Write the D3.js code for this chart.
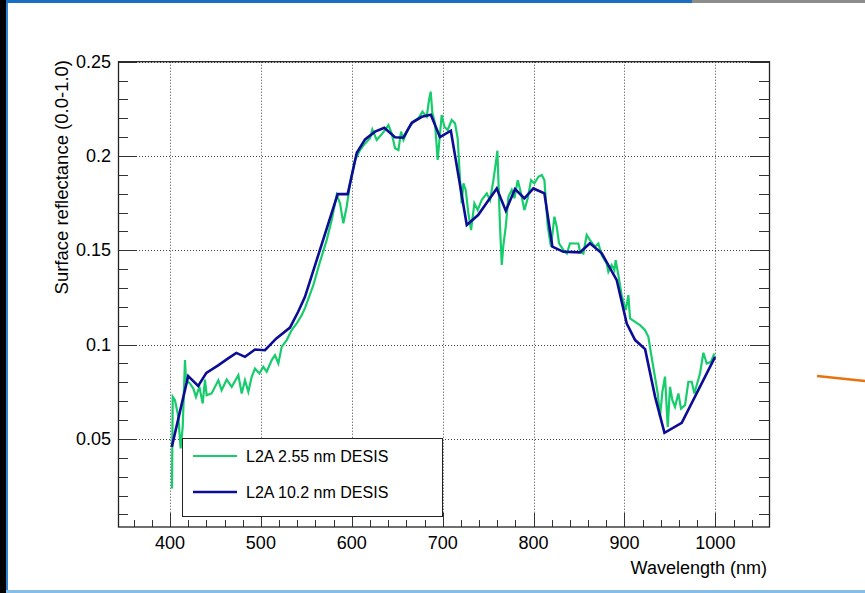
<!DOCTYPE html>
<html>
<head>
<meta charset="utf-8">
<script src="https://cdn.jsdelivr.net/npm/d3@7"></script>
<style>
  body { margin: 0; background: #fff; }
  svg { display: block; font-family: "Liberation Sans", Arial, sans-serif; }
</style>
</head>
<body>
<svg id="chart" width="865" height="593"></svg>
<script>
// L2A 2.55 nm DESIS
var greenWl = [402.2,403.0,405.5,409.2,411.7,414.0,416.5,417.6,422.0,425.7,428.6,432.3,436.0,438.5,440.3,445.8,453.2,456.8,462.4,467.9,
  475.2,478.9,482.5,486.2,489.9,493.5,498.3,502.7,506.4,511.9,515.5,519.2,522.9,528.4,533.9,539.4,544.9,548.6,557.7,565.0,
  572.4,577.9,583.4,587.1,590.7,594.4,598.1,603.6,609.1,614.6,620.1,622.6,627.4,632.2,636.6,640.3,643.9,647.6,651.3,654.2,
  656.8,662.3,667.8,673.3,677.7,682.4,685.0,686.8,688.7,691.6,694.5,697.1,698.9,701.9,705.5,709.9,713.6,716.5,719.1,720.9,
  722.8,725.3,728.3,731.2,734.9,738.5,742.9,748.5,752.1,755.8,758.4,760.2,761.3,763.1,765.0,766.8,769.4,772.3,776.0,778.9,
  782.6,786.2,789.9,793.6,797.2,800.9,805.3,809.0,811.9,815.6,819.2,822.9,825.5,828.0,832.8,836.5,840.1,845.6,849.3,851.1,
  854.8,858.4,862.1,867.6,871.3,874.9,880.4,882.3,885.9,888.9,890.3,893.3,896.9,901.4,904.3,906.1,911.6,917.1,922.6,926.3,
  929.2,932.9,936.6,939.1,941.7,944.6,947.6,950.1,952.7,955.6,959.3,962.2,966.6,970.3,974.0,976.9,983.1,986.8,990.5,995.2,998.9];
var greenRefl = [0.0237,0.0723,0.0705,0.0617,0.0450,0.0564,0.0918,0.0810,0.0794,0.0767,0.0723,0.0776,0.0688,0.0815,0.0732,0.0741,0.0811,0.0758,0.0815,0.0776,
  0.0838,0.0741,0.0811,0.0750,0.0829,0.0873,0.0847,0.0882,0.0856,0.0918,0.0944,0.0900,0.0988,0.1024,0.1077,0.1112,0.1156,0.1195,0.1315,0.1439,
  0.1554,0.1660,0.1793,0.1749,0.1643,0.1731,0.1855,0.1979,0.2032,0.2067,0.2094,0.2141,0.2085,0.2111,0.2138,0.2164,0.2120,0.2041,0.2032,0.2129,
  0.2085,0.2147,0.2182,0.2200,0.2235,0.2208,0.2297,0.2341,0.2226,0.2173,0.1979,0.2120,0.2217,0.2155,0.2138,0.2191,0.2173,0.2094,0.1872,0.1749,
  0.1855,0.1820,0.1696,0.1607,0.1749,0.1713,0.1766,0.1802,0.1766,0.1872,0.1961,0.2028,0.1872,0.1625,0.1422,0.1528,0.1625,0.1784,0.1820,0.1776,
  0.1872,0.1802,0.1713,0.1776,0.1872,0.1855,0.1890,0.1899,0.1872,0.1625,0.1519,0.1678,0.1625,0.1537,0.1501,0.1483,0.1537,0.1536,0.1536,0.1492,
  0.1483,0.1581,0.1554,0.1519,0.1536,0.1475,0.1430,0.1386,0.1422,0.1395,0.1448,0.1368,0.1262,0.1183,0.1262,0.1139,0.1121,0.1103,0.1077,0.1041,
  0.0953,0.0847,0.0741,0.0617,0.0750,0.0830,0.0564,0.0776,0.0705,0.0670,0.0741,0.0661,0.0679,0.0803,0.0803,0.0741,0.0847,0.0957,0.0900,0.0909,0.0953];

// L2A 10.2 nm DESIS
var blueWl = [402,420,431,440,453,464,473,482.5,493.5,504.5,517,532,541,548.5,584.5,595.5,605.5,614.6,625.6,635.8,
  647.5,656.7,666,677,687,697,709,726.5,739,759.5,769.4,779.6,789.9,799.8,811.9,820.7,832.8,851,862,875,
  891.5,902.5,911.7,922.7,933.7,944,963,999.7];
var blueRefl = [0.0458,0.0833,0.0781,0.0850,0.0890,0.0927,0.0956,0.0935,0.0974,0.0970,0.1033,0.1090,0.1174,0.1253,0.1798,0.1798,0.2017,0.2088,0.2129,0.2150,
  0.2099,0.2097,0.2176,0.2208,0.2219,0.2100,0.2134,0.1634,0.1687,0.1828,0.1710,0.1825,0.1775,0.1828,0.1802,0.1519,0.1492,0.1489,0.1537,0.1484,
  0.1342,0.1112,0.1024,0.0976,0.0723,0.0532,0.0585,0.0935];

var xMajor = [400,500,600,700,800,900,1000];
var yMajor = [0.05,0.1,0.15,0.2,0.25];
var legendLabels = ["L2A 2.55 nm DESIS","L2A 10.2 nm DESIS"];
var seriesColors = ["#17cc6c","#0c0c94"];

var svg = d3.select("#chart");

// frame of the screenshot --------------------------------------------------
svg.append("rect").attr("x",0).attr("y",0).attr("width",6).attr("height",593).attr("fill","#000");
svg.append("rect").attr("x",6).attr("y",0).attr("width",2).attr("height",593).attr("fill","#2b86d6");
svg.append("rect").attr("x",6).attr("y",0).attr("width",686).attr("height",3).attr("fill","#1a6fc2");
svg.append("rect").attr("x",692).attr("y",0).attr("width",173).attr("height",3).attr("fill","#8c8c8c");
svg.append("rect").attr("x",6).attr("y",590).attr("width",859).attr("height",3).attr("fill","#86bde8");
svg.append("line").attr("x1",817).attr("y1",376).attr("x2",865).attr("y2",381)
  .attr("stroke","#e8720c").attr("stroke-width",2.5);

// scales -------------------------------------------------------------------
var pLeft = 118, pRight = 769, pTop = 61.7, pBottom = 527;
var x = d3.scaleLinear().domain([342.8, 1059]).range([pLeft, pRight]);
var y = d3.scaleLinear().domain([0.0033, 0.25]).range([pBottom, pTop]);

// grid
var grid = svg.append("g").attr("stroke","#444").attr("stroke-width",1).attr("stroke-dasharray","1,2");
grid.selectAll(".gx").data(xMajor).enter().append("line")
  .attr("x1",d=>Math.round(x(d))+0.5).attr("x2",d=>Math.round(x(d))+0.5)
  .attr("y1",pTop).attr("y2",pBottom);
grid.selectAll(".gy").data(yMajor).enter().append("line")
  .attr("y1",d=>Math.round(y(d))+0.5).attr("y2",d=>Math.round(y(d))+0.5)
  .attr("x1",pLeft).attr("x2",pRight);

// axes (ticks inside, ROOT style)
var xMinor = d3.range(360, 1060, 20);
var yMinor = d3.range(1, 26).map(k => k/100);
var isMajorY = d => Math.abs(d*20 - Math.round(d*20)) < 1e-6;
var ax = svg.append("g").attr("stroke","#333").attr("stroke-width",1);
ax.selectAll(".tx").data(xMinor).enter().append("line")
  .attr("x1",d=>Math.round(x(d))+0.5).attr("x2",d=>Math.round(x(d))+0.5)
  .attr("y1",pBottom).attr("y2",d=>pBottom-(d%100===0?14:7));
ax.selectAll(".tyl").data(yMinor).enter().append("line")
  .attr("y1",d=>Math.round(y(d))+0.5).attr("y2",d=>Math.round(y(d))+0.5)
  .attr("x1",pLeft).attr("x2",d=>pLeft+(isMajorY(d)?19:10));
ax.selectAll(".tyr").data(yMinor).enter().append("line")
  .attr("y1",d=>Math.round(y(d))+0.5).attr("y2",d=>Math.round(y(d))+0.5)
  .attr("x1",pRight).attr("x2",d=>pRight-(isMajorY(d)?19:10));
svg.append("rect").attr("x",pLeft+0.5).attr("y",pTop).attr("width",pRight-pLeft).attr("height",pBottom-pTop)
  .attr("fill","none").attr("stroke","#222").attr("stroke-width",1.3);

// tick labels
svg.append("g").selectAll("text").data(xMajor).enter().append("text")
  .attr("x",d=>x(d)).attr("y",549).attr("text-anchor","middle")
  .attr("font-size",18).text(d=>d);
svg.append("g").selectAll("text").data(yMajor).enter().append("text")
  .attr("x",111).attr("y",d=>y(d)+6).attr("text-anchor","end")
  .attr("font-size",18).text(d=>d3.format("~g")(d));

// titles
svg.append("text").attr("x",767).attr("y",574).attr("text-anchor","end")
  .attr("font-size",18).text("Wavelength (nm)");
svg.append("text").attr("transform","translate(68,60) rotate(-90)").attr("text-anchor","end")
  .attr("font-size",18.5).text("Surface reflectance (0.0-1.0)");

// series
var line = d3.line().x(d=>x(d[0])).y(d=>y(d[1]));
svg.append("path").datum(d3.zip(greenWl, greenRefl))
  .attr("d",line).attr("fill","none").attr("stroke",seriesColors[0]).attr("stroke-width",2.2);
svg.append("path").datum(d3.zip(blueWl, blueRefl))
  .attr("d",line).attr("fill","none").attr("stroke",seriesColors[1]).attr("stroke-width",2.6);

// legend
var lg = svg.append("g");
lg.append("rect").attr("x",182.5).attr("y",438.5).attr("width",260).attr("height",78)
  .attr("fill","#fff").attr("stroke","#222").attr("stroke-width",1);
legendLabels.forEach(function(lab,i){
  var yy = 456 + i*36;
  lg.append("line").attr("x1",193).attr("x2",237).attr("y1",yy).attr("y2",yy)
    .attr("stroke",seriesColors[i]).attr("stroke-width",i?2.6:2.2);
  lg.append("text").attr("x",246).attr("y",yy+6).attr("font-size",16).text(lab);
});
</script>
</body>
</html>
